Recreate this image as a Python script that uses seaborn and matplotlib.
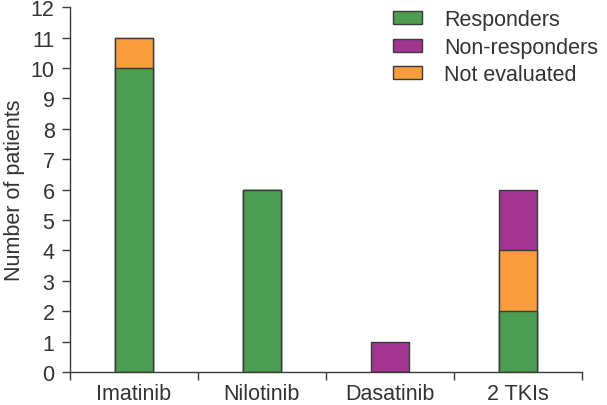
import matplotlib.pyplot as plt
import pandas as pd
import seaborn as sns
from matplotlib.patches import Patch

# Data
drugs = ['Imatinib', 'Nilotinib', 'Dasatinib', '2 TKIs']
responders = [10, 6, 0, 2]
not_evaluated = [1, 0, 0, 2]
non_responders = [0, 0, 1, 2]

colors = {'Responders': '#4b9e51', 'Non-responders': '#a3348f', 'Not evaluated': '#f89c3c'}
edge = '#3a3a3a'
text_col = '#333333'
fs = 15.5

df = pd.DataFrame({'Drug': drugs, 'R': responders, 'NE': not_evaluated, 'NR': non_responders})
# cumulative tops for stacking: green bottom, orange middle, purple top
df['top_R'] = df['R']
df['top_NE'] = df['R'] + df['NE']
df['top_NR'] = df['R'] + df['NE'] + df['NR']

sns.set_style('ticks')
plt.rcParams['font.family'] = ['Liberation Sans', 'DejaVu Sans']

fig = plt.figure(figsize=(6.07, 4.06), dpi=100)
ax = fig.add_axes([0.115, 0.081, 0.844, 0.899])

for col, name in [('top_NR', 'Non-responders'), ('top_NE', 'Not evaluated'), ('top_R', 'Responders')]:
    sns.barplot(data=df, x='Drug', y=col, color=colors[name], width=0.3,
                edgecolor=edge, linewidth=1, saturation=1, ax=ax)

ax.set_xlim(-0.5, 3.5)
ax.set_ylim(0, 12)
ax.set_yticks(range(0, 13))
ax.set_xticks([-0.5, 0.5, 1.5, 2.5, 3.5])
ax.set_xticklabels([])
ax.set_xticks(range(4), minor=True)
ax.set_xticklabels(drugs, minor=True)
ax.tick_params(axis='x', which='minor', length=0, pad=8, labelsize=fs, labelcolor=text_col)
ax.tick_params(axis='x', which='major', length=6, width=1, color=edge)
ax.tick_params(axis='y', length=6, width=1, pad=5, color=edge, labelsize=fs, labelcolor=text_col)
ax.set_xlabel('')
ax.set_ylabel('Number of patients', fontsize=fs, color=text_col, labelpad=4)
sns.despine(ax=ax)
for s in ['left', 'bottom']:
    ax.spines[s].set_color(edge)
    ax.spines[s].set_linewidth(1)

handles = [Patch(facecolor=colors[n], edgecolor=edge, linewidth=1, label=n)
           for n in ['Responders', 'Non-responders', 'Not evaluated']]
leg = ax.legend(handles=handles, loc='upper right', bbox_to_anchor=(1.06, 1.035), frameon=False,
                fontsize=fs, handlelength=1.35, handleheight=0.55, handletextpad=1.0,
                labelspacing=0.3, borderpad=0.2)
for t in leg.get_texts():
    t.set_color(text_col)

fig.savefig('out.png', dpi=100)
